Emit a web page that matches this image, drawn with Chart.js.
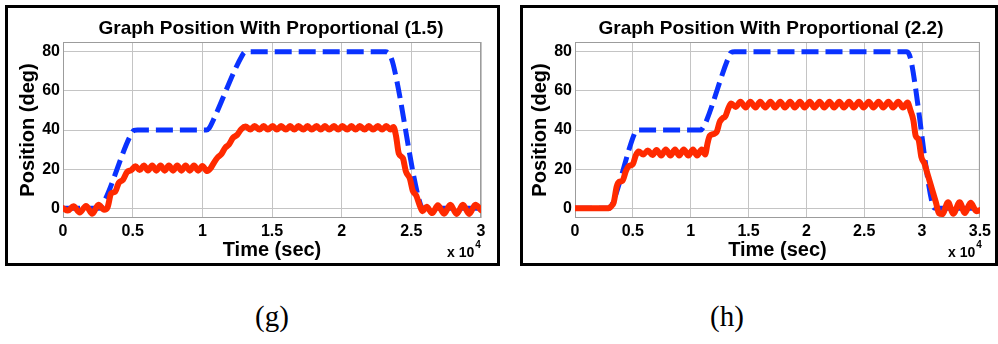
<!DOCTYPE html>
<html>
<head>
<meta charset="utf-8">
<script src="https://cdn.jsdelivr.net/npm/chart.js@4.4.1/dist/chart.umd.min.js"></script>
<style>
body { margin: 0; background: #fff; }
#page { position: relative; width: 998px; height: 344px; overflow: hidden; background: #fff; }
.box { position: absolute; border: 3px solid #000; background: #fff; }
.box canvas { position: absolute; left: 0; top: 0; }
.cap { position: absolute; font-family: "Liberation Serif", "DejaVu Serif", serif; font-size: 29px; color: #000; transform: translateX(-50%); }
</style>
</head>
<body>
<div id="page">
  <div class="box" style="left:5px;top:5px;width:489px;height:255px;"><canvas id="chartG" width="489" height="255"></canvas></div>
  <div class="box" style="left:520px;top:5px;width:472px;height:255px;"><canvas id="chartH" width="472" height="255"></canvas></div>
  <div class="cap" style="left:272px;top:300px;">(g)</div>
  <div class="cap" style="left:727px;top:300px;">(h)</div>
</div>
<script>
// time values are in units of 10^4 sec, as printed on the axis
const yTicks = [0, 20, 40, 60, 80];
const gTimeTicks = [0, 0.5, 1, 1.5, 2, 2.5, 3];
const hTimeTicks = [0, 0.5, 1, 1.5, 2, 2.5, 3, 3.5];

// (g) proportional 1.5
const gRefTime = [0, 0.26, 0.285, 0.49, 0.51, 0.535, 1.03, 1.05, 1.075, 1.285, 1.305, 1.335, 2.315, 2.345, 2.37, 2.565, 2.59, 3];
const gRef = [0, 0, 2, 38, 39.8, 40, 40, 41, 44.5, 78, 79.8, 80, 80, 78.5, 73.5, 2, 0, 0];

const gPosTime = [0, 0.035, 0.075, 0.12, 0.165, 0.21, 0.255, 0.295,
  0.32, 0.345, 0.375, 0.4, 0.43, 0.46, 0.49,
  0.52, 0.55, 0.58, 0.61, 0.64, 0.67, 0.70, 0.73, 0.76, 0.79, 0.82, 0.85, 0.88, 0.91, 0.94, 0.97, 1.0, 1.035,
  1.06, 1.085, 1.11, 1.135, 1.165, 1.19, 1.22, 1.25, 1.28, 1.31,
  1.345, 1.375, 1.41, 1.44, 1.47, 1.505, 1.535, 1.565, 1.6, 1.63, 1.66, 1.69, 1.725, 1.755, 1.785, 1.82, 1.85,
  1.88, 1.91, 1.945, 1.975, 2.005, 2.04, 2.07, 2.1, 2.13, 2.165, 2.195, 2.225, 2.26, 2.29, 2.32, 2.35, 2.372,
  2.39, 2.41, 2.44, 2.46, 2.49, 2.51, 2.535, 2.56, 2.58,
  2.61, 2.65, 2.69, 2.735, 2.78, 2.825, 2.87, 2.915, 2.96, 3.0];
const gPos = [0, -1.2, 1.0, -2.2, 1.2, -2.8, 1.8, -0.8,
  0.5, 7.5, 8.5, 13, 14.5, 18.5, 19.5,
  21.5, 19.5, 21.8, 19.3, 21.8, 19.2, 21.8, 19.2, 21.8, 19.2, 21.8, 19.2, 21.8, 19.2, 21.8, 19.2, 21.6, 19.0,
  20.5, 23.5, 26, 27.5, 31, 32.5, 36, 37.5, 40.5, 41.8,
  40.3, 42, 40.2, 42, 40.2, 42, 40.2, 42, 40.2, 42, 40.2, 42, 40.2, 42, 40.2, 42, 40.2,
  42, 40.2, 42, 40.2, 42, 40.2, 42, 40.2, 42, 40.2, 42, 40.2, 42, 40.2, 42, 40.3, 41.5,
  37, 28, 25.5, 19, 15, 9, 6.5, 1.5, -1.5,
  0.8, -2.5, 1.5, -2.8, 1.8, -3, 1.8, -3, 1.8, -1];

// (h) proportional 2.2
const hRefTime = [0, 0.3, 0.325, 0.51, 0.53, 0.555, 1.09, 1.11, 1.135, 1.33, 1.35, 1.38, 2.865, 2.89, 2.91, 3.09, 3.115, 3.5];
const hRef = [0, 0, 2.5, 37.5, 39.7, 40, 40, 41.5, 44.5, 77.5, 79.7, 80, 80, 78.5, 74, 2, 0, 0];

const hPosTime = [0, 0.29, 0.31, 0.335, 0.36, 0.38, 0.41, 0.44, 0.465, 0.5, 0.525, 0.55,
  0.59, 0.63, 0.67, 0.705, 0.745, 0.785, 0.825, 0.865, 0.9, 0.94, 0.98, 1.02, 1.055, 1.095, 1.125,
  1.145, 1.165, 1.2, 1.225, 1.25, 1.275, 1.3, 1.325, 1.35,
  1.39, 1.43, 1.475, 1.515, 1.56, 1.6, 1.645, 1.69, 1.73, 1.775, 1.815, 1.86, 1.9, 1.945, 1.985, 2.03, 2.07, 2.115,
  2.155, 2.2, 2.24, 2.285, 2.325, 2.37, 2.41, 2.455, 2.495, 2.54, 2.58, 2.625, 2.665, 2.71, 2.75, 2.795, 2.835, 2.875,
  2.9, 2.925, 2.945, 2.97, 2.995, 3.02, 3.045, 3.07, 3.095, 3.12, 3.145,
  3.175, 3.225, 3.27, 3.325, 3.37, 3.42, 3.47, 3.5];
const hPos = [0, 0, 0.8, 3, 11, 13.5, 14, 19, 21.5, 22.5, 27, 29,
  27.5, 29.5, 27.2, 29.8, 27, 30, 27, 30, 27, 30, 27, 30, 27, 30, 27.5,
  33, 37, 38, 39, 44, 46, 47, 51, 53.5,
  51.8, 54.5, 51.5, 54.5, 51.5, 54.5, 51.5, 54.5, 51.5, 54.5, 51.5, 54.5, 51.5, 54.5, 51.5, 54.5, 51.5, 54.5,
  51.5, 54.5, 51.5, 54.5, 51.5, 54.5, 51.5, 54.5, 51.5, 54.5, 51.5, 54.5, 51.5, 54.5, 51.5, 54.5, 51.5, 54,
  50, 45, 37, 35, 26, 23, 18, 13, 8, 3, -2.5,
  -3, 3, -2.8, 3, -2.5, 2.8, -1.5, -1];

const FONT = '"Liberation Sans", Arial, sans-serif';

const plotFrame = {
  id: 'plotFrame',
  beforeDatasetsDraw(chart) {
    const a = chart.chartArea;
    const ctx = chart.ctx;
    ctx.save();
    ctx.strokeStyle = '#9c9c9c';
    ctx.lineWidth = 1;
    ctx.strokeRect(a.left + 0.5, a.top + 0.5, a.right - a.left - 1, a.bottom - a.top - 1);
    ctx.restore();
  }
};

const figText = {
  id: 'figText',
  afterDraw(chart, args, opts) {
    const ctx = chart.ctx;
    ctx.save();
    ctx.fillStyle = '#000';
    ctx.font = 'bold 19px ' + FONT;
    ctx.textAlign = 'center';
    ctx.textBaseline = 'middle';
    ctx.fillText(opts.title, opts.titleX, 21);
    ctx.textAlign = 'left';
    ctx.textBaseline = 'alphabetic';
    ctx.font = 'bold 14px ' + FONT;
    ctx.fillText('x 10', opts.expX, 249);
    const w = ctx.measureText('x 10').width;
    ctx.font = 'bold 10px ' + FONT;
    ctx.fillText('4', opts.expX + w + 1, 240);
    ctx.restore();
  }
};

function points(times, values) {
  return times.map((t, i) => ({ x: t, y: values[i] }));
}

function makeChart(id, cfg) {
  const ctx = document.getElementById(id).getContext('2d');
  return new Chart(ctx, {
    type: 'line',
    data: {
      datasets: [{
        label: 'Position',
        data: points(cfg.posTime, cfg.pos),
        borderColor: '#ff2a00',
        borderWidth: 6,
        pointRadius: 0,
        cubicInterpolationMode: 'monotone',
        borderJoinStyle: 'round',
        borderCapStyle: 'round',
        fill: false,
        order: 0
      }, {
        label: 'Reference',
        data: points(cfg.refTime, cfg.ref),
        borderColor: '#0a32ff',
        borderWidth: 5,
        borderDash: [17, 7],
        pointRadius: 0,
        cubicInterpolationMode: 'monotone',
        fill: false,
        order: 1
      }]
    },
    options: {
      responsive: false,
      animation: false,
      devicePixelRatio: 1,
      layout: { padding: { top: 34, right: cfg.padRight, bottom: 0, left: 0 } },
      plugins: {
        legend: { display: false },
        tooltip: { enabled: false },
        figText: { title: cfg.title, titleX: cfg.titleX, expX: cfg.expX }
      },
      scales: {
        x: {
          type: 'linear',
          min: 0,
          max: cfg.xMax,
          afterBuildTicks: s => { s.ticks = cfg.xTicks.map(v => ({ value: v })); },
          afterFit: s => { s.height = 45; },
          grid: { color: '#c4c4c4', borderDash: [1, 2], drawTicks: false },
          border: { display: false },
          ticks: {
            padding: 4,
            color: '#000',
            font: { family: FONT, size: 16, weight: 'bold' },
            callback: v => String(v)
          },
          title: {
            display: true,
            text: 'Time (sec)',
            color: '#000',
            font: { family: FONT, size: 20, weight: 'bold' },
            padding: { top: 0, bottom: 1 }
          }
        },
        y: {
          type: 'linear',
          min: -5,
          max: 85,
          afterBuildTicks: s => { s.ticks = yTicks.map(v => ({ value: v })); },
          afterFit: s => { s.width = cfg.yWidth; },
          grid: { color: '#c4c4c4', borderDash: [1, 2], drawTicks: false },
          border: { display: false },
          ticks: {
            padding: 3,
            color: '#000',
            font: { family: FONT, size: 16, weight: 'bold' },
            callback: v => String(v)
          },
          title: {
            display: true,
            text: 'Position (deg)',
            color: '#000',
            font: { family: FONT, size: 20, weight: 'bold' },
            padding: { top: cfg.yTitlePad, bottom: 0 }
          }
        }
      }
    },
    plugins: [plotFrame, figText]
  });
}

makeChart('chartG', {
  title: 'Graph Position With Proportional (1.5)',
  titleX: 263, expX: 439,
  posTime: gPosTime, pos: gPos, refTime: gRefTime, ref: gRef,
  xMax: 3, xTicks: gTimeTicks,
  yWidth: 55, padRight: 16, yTitlePad: 8
});

makeChart('chartH', {
  title: 'Graph Position With Proportional (2.2)',
  titleX: 248, expX: 425,
  posTime: hPosTime, pos: hPos, refTime: hRefTime, ref: hRef,
  xMax: 3.5, xTicks: hTimeTicks,
  yWidth: 52, padRight: 15, yTitlePad: 5
});
</script>
</body>
</html>
